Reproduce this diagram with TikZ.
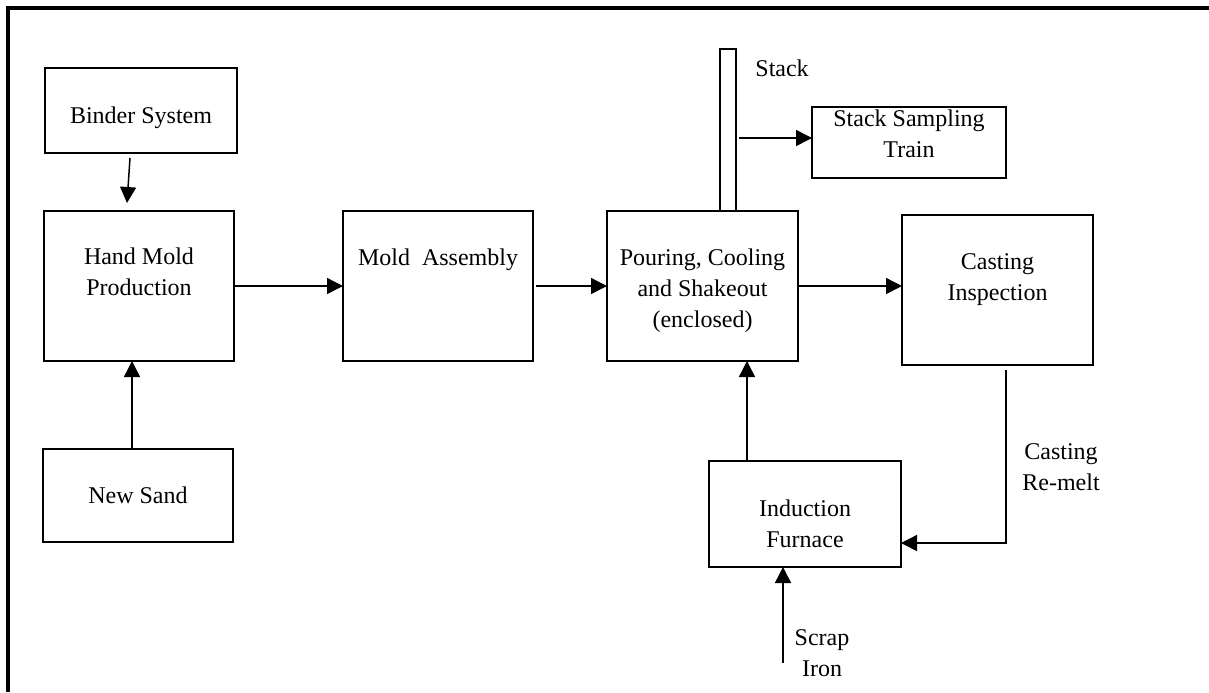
\documentclass[tikz,border=0pt]{standalone}
\usepackage{fontspec}
\setmainfont{Liberation Serif}
\usetikzlibrary{arrows.meta,calc}

\begin{document}
\begin{tikzpicture} [x=0.5pt, y=-0.5pt, >={Triangle[length=8pt,width=8pt]},
    box/.style={draw, line width=1pt, inner sep=0pt, outer sep=0pt},
    txt/.style={font=\fontsize{12}{15.5}\selectfont, align=center, inner sep=0pt, anchor=base},
    flow/.style={->, line width=0.75pt}]
  \useasboundingbox (0,0) rectangle (1209,692);
  % FRAME:
  \draw[line width=2pt] (8,692) -- (8,7.5) -- (1209,7.5);

  % BOXES
  \node[box, minimum width=96pt, minimum height=42.5pt] (binder) at (141,110.5) {};
  \node[box, minimum width=95pt, minimum height=75pt] (handmold) at (139,286) {};
  \node[box, minimum width=95pt, minimum height=46.5pt] (newsand) at (138,495.5) {};
  \node[box, minimum width=95pt, minimum height=75pt] (mold) at (438,286) {};
  \node[box, minimum width=95.5pt, minimum height=75pt] (pour) at (702.5,286) {};
  \node[box, minimum width=95.5pt, minimum height=75pt] (casting) at (997.5,290) {};
  \node[box, minimum width=96pt, minimum height=53pt] (furnace) at (805,514) {};
  \node[box, minimum width=97pt, minimum height=35.5pt] (sampling) at (909,142.5) {};
  \node[box, line width=0.75pt, minimum width=8pt, minimum height=81pt] (stack) at (728,130) {};

  % TEXT (base = last line)
  \node[txt] (binder-t) at ($(binder.north)+(0,55)$) {Binder System};
  \node[txt] (handmold-t) at ($(handmold.north)+(0,84)$) {Hand Mold\\Production};
  \node[txt] (newsand-t) at ($(newsand.north)+(0,54)$) {New Sand};
  \node[txt] (mold-t) at ($(mold.north)+(0,54)$) {Mold~~Assembly};
  \node[txt] (pour-t) at ($(pour.north)+(0,116)$) {Pouring, Cooling\\and Shakeout\\(enclosed)};
  \node[txt] (casting-t) at ($(casting.north)+(0,85)$) {Casting\\Inspection};
  \node[txt] (furnace-t) at ($(furnace.north)+(0,86)$) {Induction\\Furnace};
  \node[txt] (sampling-t) at ($(sampling.north)+(0,50)$) {Stack Sampling\\Train};
  \node[txt, anchor=base west] (stack-t) at (755,76) {Stack};
  \node[txt] (remelt-t) at (1061,490) {Casting\\Re-melt};
  \node[txt] (scrap-t) at (822,676) {Scrap\\Iron};

  % LINES:
  \draw[flow] ($(binder.south)+(-11,5)$) -- ($(handmold.north)+(-12,-8)$);
  \draw[flow] ($(newsand.north)+(-6,0)$) coordinate (ns) -- (ns |- handmold.south);
  \draw[flow] (handmold.east) -- (mold.west);
  \draw[flow] ($(mold.east)+(3,0)$) -- (pour.west);
  \draw[flow] (pour.east) -- (pour.east -| casting.west);
  \draw[flow] ($(stack.east)+(3,8)$) coordinate (st) -- (st -| sampling.west);
  \draw[flow] ($(furnace.north)+(-58,0)$) coordinate (fn) -- (fn |- pour.south);
  \draw[flow] ($(casting.south)+(8.5,5)$) |- ($(furnace.east)+(0,29)$);
  \coordinate (scrap) at (783,663);
  \draw[flow] (scrap) -- (scrap |- furnace.south);
\end{tikzpicture}
\end{document}
